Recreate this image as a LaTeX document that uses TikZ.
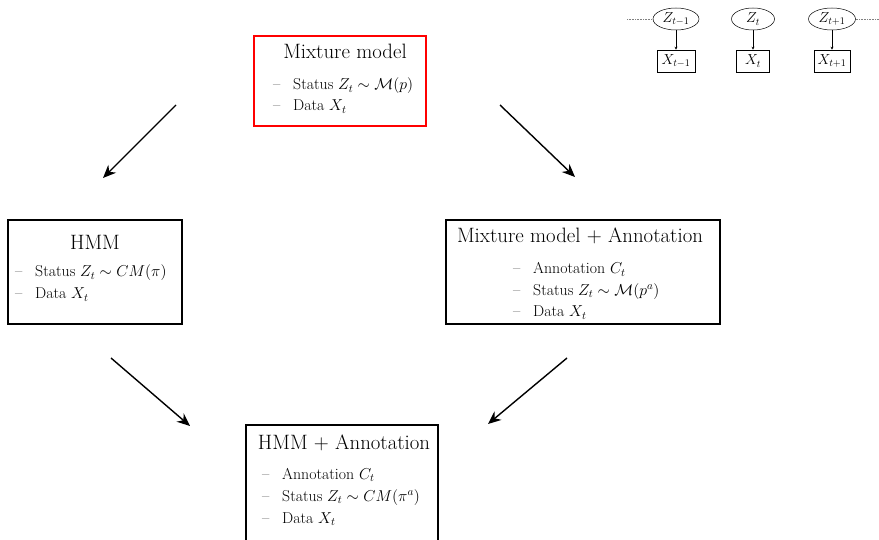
\RequirePackage{fix-cm}
\documentclass[tikz,border=0pt]{standalone}
\usetikzlibrary{arrows.meta,shapes.geometric}
\newcommand\myitem[1]{\makebox[20pt][l]{--}#1}
\begin{document}
\begin{tikzpicture}[x=1pt,y=-1pt,
  mbox/.style={draw=black,line width=1.2pt,inner sep=0pt,rectangle},
  ttl/.style={inner sep=0pt,font=\fontsize{20.8}{25}\selectfont},
  itm/.style={inner sep=0pt,anchor=base west,font=\fontsize{15.8}{18}\selectfont},
  bigarrow/.style={line width=1.4pt,-{Stealth[length=13pt,width=11pt]}},
  ell/.style={draw,ellipse,line width=0.5pt,inner sep=0pt,minimum height=22pt,font=\fontsize{14.5}{16}\selectfont},
  sq/.style={draw,rectangle,line width=0.6pt,inner sep=0pt,minimum height=22pt,font=\fontsize{14.5}{16}\selectfont},
  small/.style={line width=0.5pt,-{Stealth[length=3pt,width=3pt]}},
  dots/.style={gray,densely dotted,line width=0.6pt}]
\useasboundingbox (0,0) rectangle (879,540);
\clip (0,0) rectangle (879,540);

% top: mixture model
\node[mbox,draw=red,line width=1.8pt,minimum width=172pt,minimum height=90pt] (mix) at (340,81) {};
\node[ttl] (mixT) at (345,51) {Mixture model};
\node[itm] (mix1) at (273,90) {\myitem{Status $Z_t\sim\mathcal{M}(p)$}};
\node[itm] (mix2) at (273,111) {\myitem{Data $X_t$}};

% HMM
\node[mbox,minimum width=174pt,minimum height=104pt] (hmm) at (95,272) {};
\node[ttl] (hmmT) at (95,242) {HMM};
\node[itm] (hmm1) at (15,277) {\myitem{Status $Z_t\sim CM(\pi)$}};
\node[itm] (hmm2) at (15,299) {\myitem{Data $X_t$}};

% Mixture + annotation
\node[mbox,minimum width=274pt,minimum height=104pt] (mixa) at (583,272) {};
\node[ttl] (mixaT) at (580,236) {Mixture model + Annotation};
\node[itm] (mixa1) at (513,274) {\myitem{Annotation $C_t$}};
\node[itm] (mixa2) at (513,295.5) {\myitem{Status $Z_t\sim\mathcal{M}(p^a)$}};
\node[itm] (mixa3) at (513,317) {\myitem{Data $X_t$}};

% HMM + annotation
\node[mbox,minimum width=192pt,minimum height=140pt] (hmma) at (342,495) {};
\node[ttl] (hmmaT) at (344,443) {HMM + Annotation};
\node[itm] (hmma1) at (262,479) {\myitem{Annotation $C_t$}};
\node[itm] (hmma2) at (262,501) {\myitem{Status $Z_t\sim CM(\pi^a)$}};
\node[itm] (hmma3) at (262,523) {\myitem{Data $X_t$}};

% arrows
\coordinate (a1s) at (176,105); \coordinate (a1e) at (103,178);
\coordinate (a2s) at (500,105); \coordinate (a2e) at (575,177);
\coordinate (a3s) at (111,358); \coordinate (a3e) at (190,426);
\coordinate (a4s) at (567,358); \coordinate (a4e) at (488,424);
\draw[bigarrow] (a1s) -- (a1e);
\draw[bigarrow] (a2s) -- (a2e);
\draw[bigarrow] (a3s) -- (a3e);
\draw[bigarrow] (a4s) -- (a4e);

% small graphical model
\node[ell,minimum width=46pt] (z1) at (676,19) {$Z_{t-1}$};
\node[ell,minimum width=43pt] (z2) at (753,19) {$Z_t$};
\node[ell,minimum width=47pt] (z3) at (832,19) {$Z_{t+1}$};
\node[sq,minimum width=38pt] (x1) at (676,61) {$X_{t-1}$};
\node[sq,minimum width=33pt] (x2) at (753,61) {$X_t$};
\node[sq,minimum width=36pt] (x3) at (832,61) {$X_{t+1}$};
\draw[small] (z1) -- (x1);
\draw[small] (z2) -- (x2);
\draw[small] (z3) -- (x3);
\coordinate (dl) at (627,19);
\coordinate (dr) at (879,19);
\draw[dots] (dl) -- (z1.west);
\draw[dots] (z3.east) -- (dr);
\end{tikzpicture}
\end{document}
